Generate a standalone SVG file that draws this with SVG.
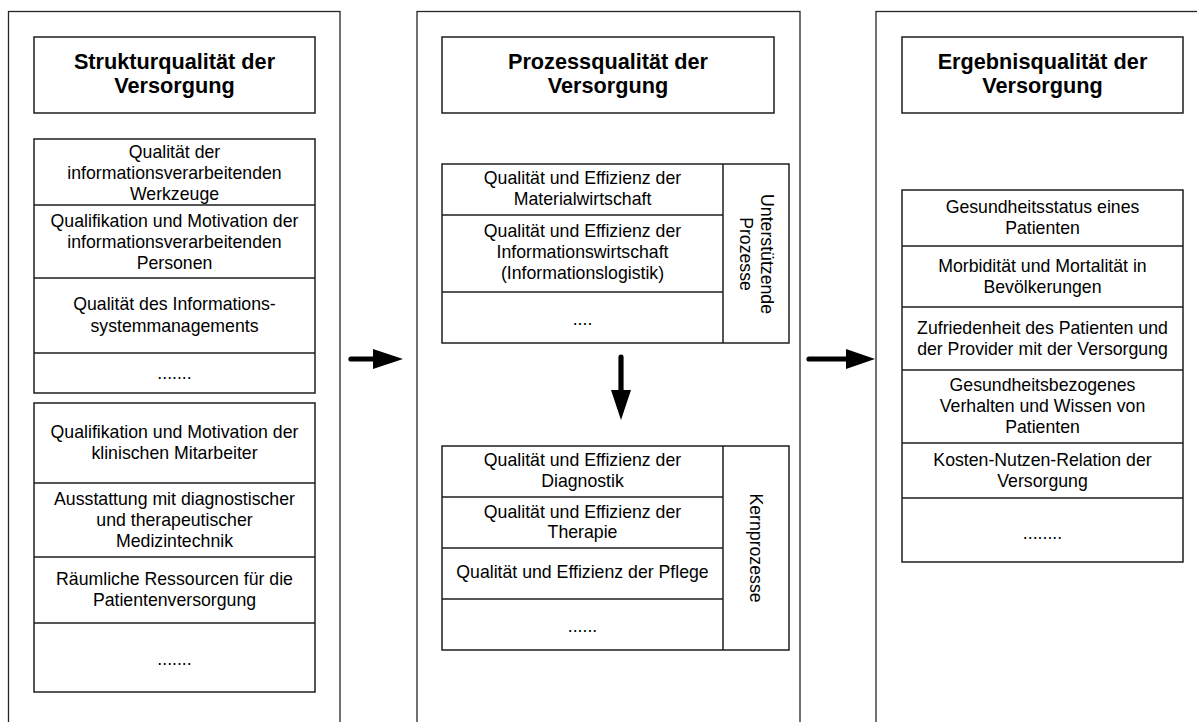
<svg xmlns="http://www.w3.org/2000/svg" width="1197" height="722" viewBox="0 0 1197 722">
  <style>
    .panel { fill: #ffffff; stroke: #262626; stroke-width: 1.3; }
    .box { fill: #ffffff; stroke: #1e1e1e; stroke-width: 1.5; }
    .sep { stroke: #1e1e1e; stroke-width: 1.5; fill: none; }
    .title { font-family: "Liberation Sans", Arial, sans-serif; font-weight: bold; font-size: 21.7px; fill: #000000; text-anchor: middle; }
    .txt { font-family: "Liberation Sans", Arial, sans-serif; font-size: 17.7px; fill: #000000; text-anchor: middle; }
    .shaft { stroke: #000000; stroke-width: 5.2; stroke-linecap: round; fill: none; }
    .head { fill: #000000; stroke: none; }
  </style>

  <rect width="1197" height="722" fill="#ffffff"/>

  <!-- three quality panels; they run past the lower edge -->
  <g id="panel-struktur">
    <rect class="panel" x="8.5" y="11.5" width="331.5" height="730"/>
  </g>
  <g id="panel-prozess">
    <rect class="panel" x="417" y="11.5" width="383" height="730"/>
  </g>
  <g id="panel-ergebnis">
    <rect class="panel" x="876" y="11.5" width="360" height="730"/>
  </g>

  <!-- column headings -->
  <g id="title-struktur">
    <rect class="box" x="34" y="37" width="281" height="76"/>
    <text class="title" x="174.5" y="69">Strukturqualität der</text>
    <text class="title" x="174.5" y="93">Versorgung</text>
  </g>
  <g id="title-prozess">
    <rect class="box" x="442" y="37" width="332" height="76"/>
    <text class="title" x="608" y="68.5">Prozessqualität der</text>
    <text class="title" x="608" y="93">Versorgung</text>
  </g>
  <g id="title-ergebnis">
    <rect class="box" x="902" y="37" width="281" height="76"/>
    <text class="title" x="1042.5" y="68.5">Ergebnisqualität der</text>
    <text class="title" x="1042.5" y="93">Versorgung</text>
  </g>

  <!-- structure quality: information processing -->
  <g id="struktur-information">
    <rect class="box" x="34" y="139" width="281" height="254"/>
    <path class="sep" d="M34 205H315M34 278H315M34 353H315"/>
    <text class="txt" x="174.5" y="158">Qualität der</text>
    <text class="txt" x="174.5" y="179">informationsverarbeitenden</text>
    <text class="txt" x="174.5" y="200">Werkzeuge</text>
    <text class="txt" x="174.5" y="227">Qualifikation und Motivation der</text>
    <text class="txt" x="174.5" y="248">informationsverarbeitenden</text>
    <text class="txt" x="174.5" y="269">Personen</text>
    <text class="txt" x="174.5" y="310">Qualität des Informations-</text>
    <text class="txt" x="174.5" y="332">systemmanagements</text>
    <text class="txt" x="174.5" y="379">.......</text>
  </g>

  <!-- structure quality: clinical resources -->
  <g id="struktur-klinik">
    <rect class="box" x="34" y="403" width="281" height="289"/>
    <path class="sep" d="M34 483H315M34 557H315M34 623H315"/>
    <text class="txt" x="174.5" y="438">Qualifikation und Motivation der</text>
    <text class="txt" x="174.5" y="459">klinischen Mitarbeiter</text>
    <text class="txt" x="174.5" y="505">Ausstattung mit diagnostischer</text>
    <text class="txt" x="174.5" y="526">und therapeutischer</text>
    <text class="txt" x="174.5" y="547">Medizintechnik</text>
    <text class="txt" x="174.5" y="585">Räumliche Ressourcen für die</text>
    <text class="txt" x="174.5" y="606">Patientenversorgung</text>
    <text class="txt" x="174.5" y="665">.......</text>
  </g>

  <!-- process quality: supporting processes -->
  <g id="prozess-unterstuetzend">
    <rect class="box" x="442" y="164" width="347" height="179"/>
    <path class="sep" d="M723 164V343M442 215H723M442 292H723"/>
    <text class="txt" x="582.5" y="184">Qualität und Effizienz der</text>
    <text class="txt" x="582.5" y="205">Materialwirtschaft</text>
    <text class="txt" x="582.5" y="237">Qualität und Effizienz der</text>
    <text class="txt" x="582.5" y="258">Informationswirtschaft</text>
    <text class="txt" x="582.5" y="279">(Informationslogistik)</text>
    <text class="txt" x="582.5" y="325">....</text>
    <text class="txt" transform="translate(756 254) rotate(90)"><tspan x="0" y="-4.5">Unterstützende</tspan><tspan x="0" y="16.5">Prozesse</tspan></text>
  </g>

  <!-- process quality: core processes -->
  <g id="prozess-kern">
    <rect class="box" x="442" y="446" width="347" height="204"/>
    <path class="sep" d="M723 446V650M442 497H723M442 548H723M442 599H723"/>
    <text class="txt" x="582.5" y="466">Qualität und Effizienz der</text>
    <text class="txt" x="582.5" y="487">Diagnostik</text>
    <text class="txt" x="582.5" y="518">Qualität und Effizienz der</text>
    <text class="txt" x="582.5" y="538">Therapie</text>
    <text class="txt" x="582.5" y="578">Qualität und Effizienz der Pflege</text>
    <text class="txt" x="582.5" y="632">......</text>
    <text class="txt" transform="translate(756 548) rotate(90)" x="0" y="6.5">Kernprozesse</text>
  </g>

  <!-- outcome quality -->
  <g id="ergebnis-kriterien">
    <rect class="box" x="902" y="190" width="281" height="372"/>
    <path class="sep" d="M902 246H1183M902 307H1183M902 370H1183M902 443H1183M902 498H1183"/>
    <text class="txt" x="1042.5" y="213">Gesundheitsstatus eines</text>
    <text class="txt" x="1042.5" y="234">Patienten</text>
    <text class="txt" x="1042.5" y="272">Morbidität und Mortalität in</text>
    <text class="txt" x="1042.5" y="293">Bevölkerungen</text>
    <text class="txt" x="1042.5" y="334">Zufriedenheit des Patienten und</text>
    <text class="txt" x="1042.5" y="355">der Provider mit der Versorgung</text>
    <text class="txt" x="1042.5" y="391">Gesundheitsbezogenes</text>
    <text class="txt" x="1042.5" y="412">Verhalten und Wissen von</text>
    <text class="txt" x="1042.5" y="433">Patienten</text>
    <text class="txt" x="1042.5" y="466">Kosten-Nutzen-Relation der</text>
    <text class="txt" x="1042.5" y="487">Versorgung</text>
    <text class="txt" x="1042.5" y="539">........</text>
  </g>

  <!-- connectors -->
  <g id="connectors">
    <line class="shaft" x1="351" y1="359" x2="376" y2="359"/>
    <polygon class="head" points="373,349 403,359 373,369"/>
    <line class="shaft" x1="809" y1="359" x2="849" y2="359"/>
    <polygon class="head" points="846,349 875,359 846,369"/>
    <line class="shaft" x1="621" y1="357" x2="621" y2="393"/>
    <polygon class="head" points="611,390 631,390 621,420"/>
  </g>
</svg>
